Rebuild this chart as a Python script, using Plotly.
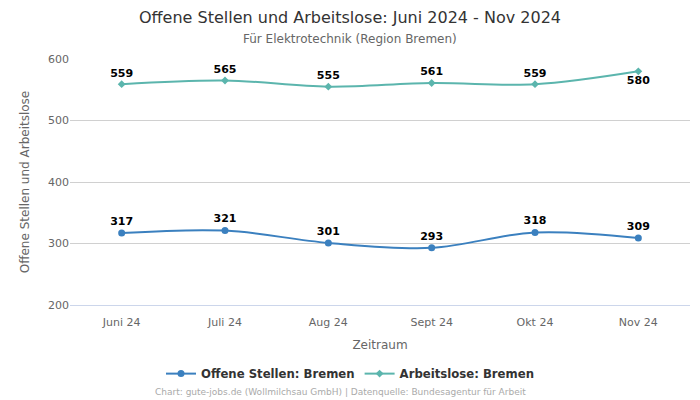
import plotly.graph_objects as go

months = ["Juni 24", "Juli 24", "Aug 24", "Sept 24", "Okt 24", "Nov 24"]
offene = [317, 321, 301, 293, 318, 309]
arbeitslose = [559, 565, 555, 561, 559, 580]
arb_label_pos = ["top center"] * 5 + ["bottom center"]

FONT = "DejaVu Sans"
fig = go.Figure()
fig.add_trace(go.Scatter(
    x=months, y=offene, name="Offene Stellen: Bremen",
    mode="lines+markers+text", line=dict(color="#3b80bf", width=2, shape="spline"),
    marker=dict(symbol="circle", size=7, color="#3b80bf"),
    text=[str(v) for v in offene], textposition="top center",
    textfont=dict(family=FONT, size=11, color="#000000", weight="bold"),
))
fig.add_trace(go.Scatter(
    x=months, y=arbeitslose, name="Arbeitslose: Bremen",
    mode="lines+markers+text", line=dict(color="#5bb5ad", width=2, shape="spline"),
    marker=dict(symbol="diamond", size=6, color="#5bb5ad"),
    text=[str(v) for v in arbeitslose], textposition=arb_label_pos,
    textfont=dict(family=FONT, size=11, color="#000000", weight="bold"),
))

fig.update_layout(
    width=700, height=400,
    margin=dict(l=70, r=10, t=59, b=95, autoexpand=False),
    paper_bgcolor="white", plot_bgcolor="white",
    font=dict(family=FONT, color="#666666", size=11),
    title=dict(
        text="Offene Stellen und Arbeitslose: Juni 2024 - Nov 2024",
        x=0.5, xanchor="center", y=1 - 17 / 400, yanchor="middle", yref="container",
        font=dict(family=FONT, size=16, color="#333333"),
    ),
    xaxis=dict(
        title=dict(text="Zeitraum", font=dict(size=12, color="#666666"), standoff=12),
        range=[-0.5, 5.5], showgrid=False, showline=True, linecolor="#ccd6eb", linewidth=1,
        ticks="", ticklabelstandoff=7,
        tickfont=dict(size=11, color="#666666"),
    ),
    yaxis=dict(
        title=dict(text="Offene Stellen und Arbeitslose", font=dict(size=12, color="#666666")),
        range=[200, 600], dtick=100, gridcolor="#d0d0d0", zeroline=False,
        tickfont=dict(size=11, color="#666666"),
    ),
    legend=dict(
        orientation="h", x=(350 - 70) / 620, xanchor="center", y=-0.22, yanchor="top",
        font=dict(family=FONT, size=11.7, color="#333333", weight="bold"),
    ),
    annotations=[
        dict(
            text="Für Elektrotechnik (Region Bremen)",
            x=(350 - 70) / 620, xref="paper", xanchor="center", y=(305 - 39) / 246, yref="paper", yanchor="middle",
            showarrow=False, font=dict(family=FONT, size=12, color="#666666"),
        ),
        dict(
            text="Chart: gute-jobs.de (Wollmilchsau GmbH) | Datenquelle: Bundesagentur für Arbeit",
            x=(340 - 70) / 620, xref="paper", xanchor="center", y=(305 - 392) / 246, yref="paper", yanchor="middle",
            showarrow=False, font=dict(family=FONT, size=9, color="#aaaaaa"),
        ),
    ],
)
fig.write_html("out.html", config={"displayModeBar": False},
               post_script="document.body.style.margin='0';document.body.style.overflow='hidden';")
